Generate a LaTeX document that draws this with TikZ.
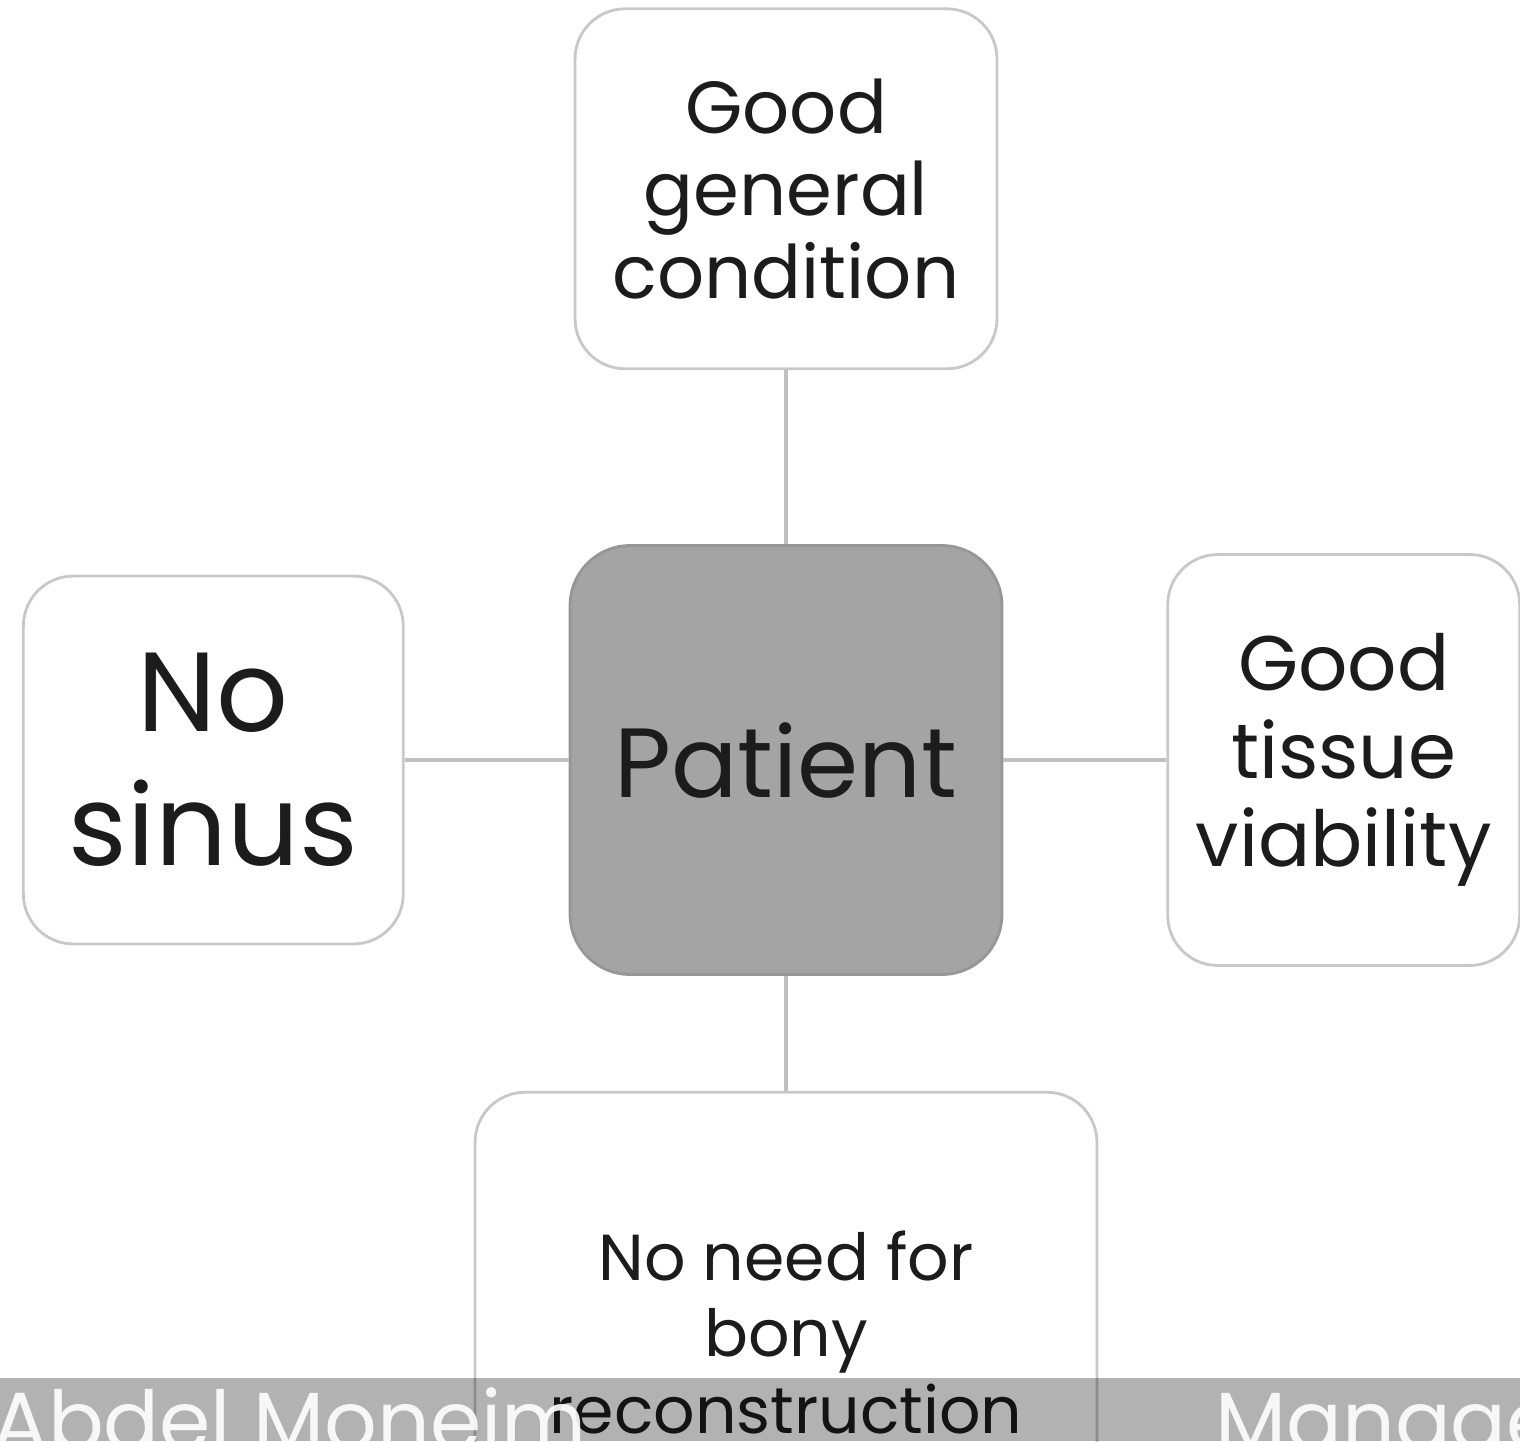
\documentclass[tikz,border=0pt]{standalone}
\usepackage{fontspec}
\setmainfont{Poppins}
\usetikzlibrary{positioning}
\definecolor{edgegray}{RGB}{200,200,200}
\definecolor{linkgray}{RGB}{192,192,192}
\definecolor{hubfill}{RGB}{164,164,164}
\definecolor{hubedge}{RGB}{150,150,150}
\definecolor{inktext}{RGB}{28,28,28}
\begin{document}
\begin{tikzpicture}[
  x=0.02cm, y=-0.02cm,
  box/.style={draw=edgegray, line width=1.6pt, rounded corners=1cm, fill=white, align=center, text=inktext, inner sep=0pt},
  hub/.style={box, draw=hubedge, fill=hubfill, rounded corners=1.2cm},
  link/.style={draw=linkgray, line width=2.2pt},
  bartext/.style={text=white, text opacity=0.9, inner sep=0pt, font=\fontsize{47}{49}\selectfont}
]
\useasboundingbox (0,0) rectangle (1520,1441);
\clip (0,0) rectangle (1520,1441);
\node[hub, minimum width=8.64cm, minimum height=8.58cm, font=\fontsize{56}{58}\selectfont] (patient) at (786,760) {Patient};
\node[box, above=3.48cm of patient, minimum width=8.44cm, minimum height=7.2cm, font=\fontsize{42}{47}\selectfont] (general) {Good\\general\\condition};
\node[box, left=3.28cm of patient, minimum width=7.6cm, minimum height=7.36cm, font=\fontsize{64}{76}\selectfont] (sinus) {No\\sinus};
\node[box, right=3.26cm of patient, minimum width=7.04cm, minimum height=8.22cm, font=\fontsize{44}{50}\selectfont] (tissue) {Good\\tissue\\viability};
\node[box, below=2.3cm of patient, minimum width=12.44cm, minimum height=9.6cm, font=\fontsize{37}{43.6}\selectfont] (bony) {No need for\\bony\\reconstruction};
\draw[link] (patient)--(general); \draw[link] (patient)--(sinus);
\draw[link] (patient)--(tissue); \draw[link] (patient)--(bony);
% footer band
\fill[black, opacity=0.3] (0,1378) rectangle (1520,1441);
\node[bartext, anchor=base west] (author) at (-8,1450) {Abdel Moneim};
\node[bartext, anchor=base west] (manage) at (1215,1450) {Manage};
\end{tikzpicture}
\end{document}
